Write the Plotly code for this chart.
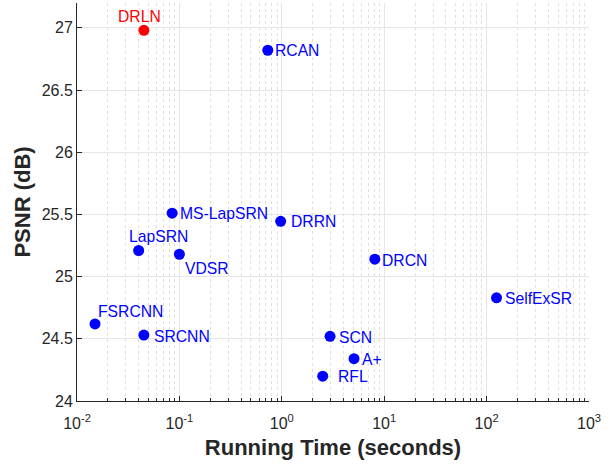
import math
import plotly.graph_objects as go

# ---- data ----
methods = ["DRLN", "RCAN", "MS-LapSRN", "DRRN", "LapSRN", "VDSR", "FSRCNN",
           "SRCNN", "DRCN", "SelfExSR", "SCN", "A+", "RFL"]
run_time = [0.045, 0.73, 0.085, 0.975, 0.040, 0.100, 0.015,
            0.045, 8.1, 125.0, 2.96, 5.07, 2.51]
psnr = [26.98, 26.82, 25.51, 25.445, 25.21, 25.18, 24.62,
        24.53, 25.14, 24.83, 24.52, 24.34, 24.20]
x_tick_vals = [0.01, 0.1, 1, 10, 100, 1000]
x_tick_text = ["10<sup>-2</sup>", "10<sup>-1</sup>", "10<sup>0</sup>",
               "10<sup>1</sup>", "10<sup>2</sup>", "10<sup>3</sup>"]
y_tick_vals = [24, 24.5, 25, 25.5, 26, 26.5, 27]
y_tick_text = ["24", "24.5", "25", "25.5", "26", "26.5", "27"]

# ---- styles (label placement offsets in px) ----
label_style = {
    "DRLN":      dict(xanchor="center", xshift=-4, yshift=14),
    "RCAN":      dict(xanchor="left", xshift=5, yshift=0),
    "MS-LapSRN": dict(xanchor="left", xshift=6, yshift=0),
    "DRRN":      dict(xanchor="left", xshift=8, yshift=0),
    "LapSRN":    dict(xanchor="left", xshift=-12, yshift=14),
    "VDSR":      dict(xanchor="left", xshift=4, yshift=-14),
    "FSRCNN":    dict(xanchor="left", xshift=1, yshift=12),
    "SRCNN":     dict(xanchor="left", xshift=8, yshift=-1),
    "DRCN":      dict(xanchor="left", xshift=5, yshift=-1),
    "SelfExSR":  dict(xanchor="left", xshift=6, yshift=-1),
    "SCN":       dict(xanchor="left", xshift=7, yshift=-1),
    "A+":        dict(xanchor="left", xshift=6, yshift=-1),
    "RFL":       dict(xanchor="left", xshift=13, yshift=0),
}
colors = ["#ff0000" if m == "DRLN" else "#0000ff" for m in methods]
font_family = "Liberation Sans"

fig = go.Figure()
fig.add_trace(go.Scatter(
    x=run_time, y=psnr, mode="markers",
    marker=dict(size=11, color=colors, line=dict(width=0)),
    showlegend=False, hoverinfo="text", text=methods,
))

for m, xv, yv, c in zip(methods, run_time, psnr, colors):
    st = label_style[m]
    fig.add_annotation(x=math.log10(xv), y=yv, xref="x", yref="y", text=m, showarrow=False,
                       xanchor=st["xanchor"], yanchor="middle",
                       xshift=st["xshift"], yshift=st["yshift"],
                       font=dict(family=font_family, size=15.7, color=c))

axis_common = dict(
    showline=True, linecolor="#262626", linewidth=1,
    ticks="inside", tickcolor="#262626", ticklen=5,
    tickfont=dict(family=font_family, size=16, color="#262626"),
    gridcolor="#e6e6e6", gridwidth=1, zeroline=False,
    mirror=False,
)

fig.update_xaxes(
    type="log", range=[-2, 3],
    tickvals=x_tick_vals, ticktext=x_tick_text,
    ticklabelstandoff=8,
    minor=dict(dtick="D1", showgrid=True, gridcolor="#e0e0e0", griddash="dot",
               gridwidth=1, ticks="inside", ticklen=3, tickcolor="#262626"),
    title=dict(text="<b>Running Time (seconds)</b>", standoff=8,
               font=dict(family=font_family, size=22, color="#262626")),
    **axis_common,
)
fig.update_yaxes(
    range=[24, 27.2],
    tickvals=y_tick_vals, ticktext=y_tick_text,
    title=dict(text="<b>PSNR (dB)</b>", standoff=4,
               font=dict(family=font_family, size=22, color="#262626")),
    **axis_common,
)

fig.update_layout(
    width=613, height=464,
    margin=dict(l=77, r=24, t=3, b=63, autoexpand=False),
    plot_bgcolor="white", paper_bgcolor="white",
)

fig.write_html("out.html", config={"displayModeBar": False},
               post_script="document.body.style.margin='0';")
